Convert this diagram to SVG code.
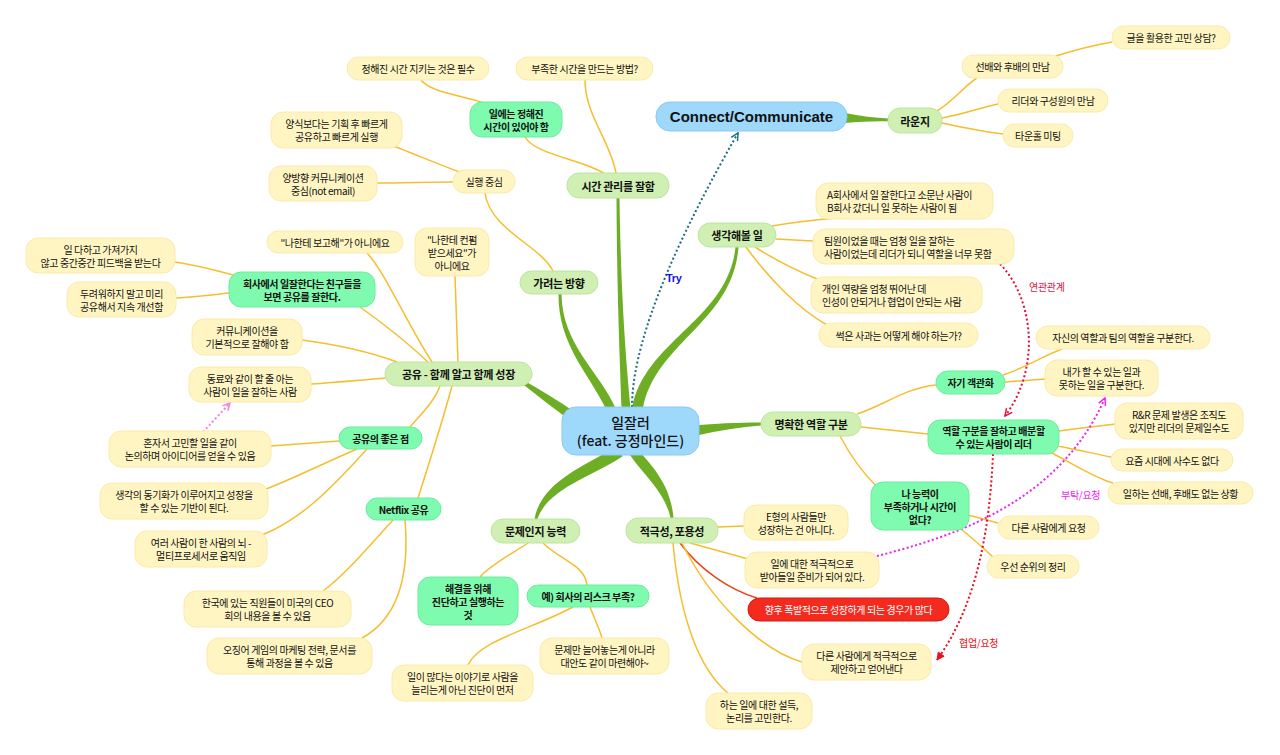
<svg xmlns="http://www.w3.org/2000/svg" width="1280" height="755" viewBox="0 0 1280 755">
<defs>
<style>
text{font-family:"Noto Sans CJK KR","Noto Sans",sans-serif;fill:#111;dominant-baseline:central}
.leaf rect{fill:#FFF5C3;stroke:#FBEAA8;stroke-width:1}
.leaf text{font-size:10px;letter-spacing:-0.4px;text-anchor:middle}
.leaf text.l{text-anchor:start}
.mint rect{fill:#7FFBAF;stroke:#6CEB9D;stroke-width:1}
.mint text{font-size:10px;font-weight:bold;letter-spacing:-0.4px;text-anchor:middle}
.l1 rect{fill:#CFEFB3;stroke:#BEE5A0;stroke-width:1}
.l1 text{font-size:11px;font-weight:bold;letter-spacing:-0.3px;text-anchor:middle}
.blue rect{fill:#9ED8FB;stroke:#88CAF2;stroke-width:1}
.red rect{fill:#F52A1E;stroke:#D41A10;stroke-width:1}
.red text{font-size:10px;letter-spacing:-0.4px;text-anchor:middle;fill:#fff}
.yc path{fill:none;stroke:#F6BE2C;stroke-width:1.5}
.br path{fill:#6DAE24}
.rel path{fill:none;stroke-width:2;stroke-dasharray:2 2.4}
.lbl{font-size:10px;letter-spacing:-0.3px}
</style>
<marker id="mTeal" viewBox="0 0 10 10" refX="9" refY="5" markerWidth="9" markerHeight="9" orient="auto" markerUnits="userSpaceOnUse"><path d="M1,1 L9,5 L1,9" fill="none" stroke="#1B6C86" stroke-width="1.6"/></marker>
<marker id="mCrim" viewBox="0 0 10 10" refX="9" refY="5" markerWidth="9" markerHeight="9" orient="auto" markerUnits="userSpaceOnUse"><path d="M1,1 L9,5 L1,9" fill="none" stroke="#E0103C" stroke-width="1.6"/></marker>
<marker id="mRed" viewBox="0 0 10 10" refX="9" refY="5" markerWidth="9" markerHeight="9" orient="auto" markerUnits="userSpaceOnUse"><path d="M1,1 L9,5 L1,9 Z" fill="#E81020" stroke="#E81020" stroke-width="1"/></marker>
<marker id="mMag" viewBox="0 0 10 10" refX="9" refY="5" markerWidth="9" markerHeight="9" orient="auto" markerUnits="userSpaceOnUse"><path d="M1,1 L9,5 L1,9" fill="none" stroke="#EE22EE" stroke-width="1.6"/></marker>
<marker id="mPink" viewBox="0 0 10 10" refX="9" refY="5" markerWidth="9" markerHeight="9" orient="auto" markerUnits="userSpaceOnUse"><path d="M1,1 L9,5 L1,9" fill="none" stroke="#F27FDC" stroke-width="1.6"/></marker>
</defs>
<rect width="1280" height="755" fill="#fff"/>

<g id="connectors">
<g class="br">
<path d="M616.5,198 C617,300 620,360 621.5,408 L630.5,408 C626,360 621,300 619.5,198 Z"/>
<path d="M558.5,294 C558,345 590,375 606,409 L616,409 C600,372 562,345 561.5,294 Z"/>
<path d="M632,408 C645,340 728,320 735.5,247 L738.5,247 C733,322 656,342 643,408 Z"/>
<path d="M519.2,381.2 Q545,402 572.2,422.1 L577.8,413.9 Q548,394 520.8,378.8 Z"/>
<path d="M699,425 Q730,422 761,422.5 L761,425.5 Q730,428 699,435 Z"/>
<path d="M845,113 C860,116 875,118 889,118.5 L889,121.5 C875,121 860,122 845,123 Z"/>
<path d="M612,449 C585,466 541,482 534.5,519 L537.5,519 C548,488 594,476 623,456 Z"/>
<path d="M630,455 C646,478 665,492 670.5,518 L673.5,518 C671,488 656,470 640,452 Z"/>
</g>
<g class="yc">
<path d="M616,173 C610,140 585,115 585,80"/>
<path d="M605,174 C585,160 535,155 525,137"/>
<path d="M484,103 C460,95 430,92 421,80"/>
<path d="M553,271 C540,245 490,230 485,193"/>
<path d="M460,172 C440,165 410,152 393,146"/>
<path d="M453,182 C430,182 400,183 377,183"/>
<path d="M360,307 C385,325 410,345 428,362"/>
<path d="M233,275 C215,270 195,265 175,262"/>
<path d="M229,293 C210,295 195,297 176,298"/>
<path d="M367,253 C385,272 405,320 432,362"/>
<path d="M455,276 C456,310 457,340 458,362"/>
<path d="M302,340 C340,345 370,352 397,362"/>
<path d="M311,384 C340,382 360,380 386,378"/>
<path d="M440,386 C435,400 425,410 410,427"/>
<path d="M452,386 C440,430 430,460 418,498"/>
<path d="M339,441 C310,443 290,445 271,446"/>
<path d="M357,449 C320,465 290,480 266,489"/>
<path d="M367,449 C330,490 300,520 262,535"/>
<path d="M393,520 C370,545 345,575 323,591"/>
<path d="M405,520 C410,580 395,620 362,638"/>
<path d="M528,543 C510,555 490,565 480,577"/>
<path d="M543,543 C560,560 585,565 587,585"/>
<path d="M573,607 C530,630 480,640 468,665"/>
<path d="M590,607 C595,620 600,630 602,638"/>
<path d="M718,527 L744,526"/>
<path d="M690,543 C715,550 735,555 748,559"/>
<path d="M680,543 C700,570 730,590 757,598" style="stroke:#E4471A"/>
<path d="M682,543 C710,600 760,650 802,662"/>
<path d="M673,543 C680,620 700,670 728,693"/>
<path d="M772,226 C795,222 815,220 837,218"/>
<path d="M776,239 L813,241"/>
<path d="M755,247 C775,260 800,272 817,279"/>
<path d="M746,247 C770,280 800,310 827,325"/>
<path d="M937,111 C955,100 965,85 977,78"/>
<path d="M942,118 C960,115 980,108 998,104"/>
<path d="M942,123 C965,128 985,132 1003,134"/>
<path d="M1056,56 C1075,50 1095,45 1112,42"/>
<path d="M857,414 C885,405 905,388 936,385"/>
<path d="M861,427 C890,430 910,432 928,434"/>
<path d="M840,436 C850,455 865,475 877,487"/>
<path d="M1003,375 C1025,368 1045,355 1062,349"/>
<path d="M1005,382 L1045,379"/>
<path d="M1059,431 C1080,428 1100,426 1115,424"/>
<path d="M1057,446 C1080,450 1095,454 1111,457"/>
<path d="M1052,453 C1075,465 1095,478 1113,483"/>
<path d="M968,515 C980,518 990,521 998,523"/>
<path d="M962,530 C975,540 985,550 993,557"/>
</g>
<g class="rel">
<path d="M632,407 C632,350 665,260 738,133" stroke="#1B6C86" marker-end="url(#mTeal)"/>
<path d="M1000,264 C1035,300 1040,370 1005,416" stroke="#E0103C" marker-end="url(#mCrim)"/>
<path d="M993,454 C990,520 980,600 937,660" stroke="#E81020" marker-end="url(#mRed)"/>
<path d="M877,556 C960,535 1060,500 1105,398" stroke="#EE22EE" marker-end="url(#mMag)"/>
<path d="M203,432 L230,403" stroke="#F27FDC" marker-end="url(#mPink)"/>
</g>
<text class="lbl" x="666" y="278" style="fill:#1414E6;font-weight:bold;font-family:'Liberation Sans',sans-serif;font-size:11px">Try</text>
<text class="lbl" x="1029" y="286" style="fill:#E0103C">연관관계</text>
<text class="lbl" x="959" y="642" style="fill:#E81020">협업/요청</text>
<text class="lbl" x="1061" y="494" style="fill:#EE22EE">부탁/요청</text>
</g>

<g id="n-center" class="blue"><rect x="562" y="407" width="137" height="48" rx="14"/>
<text x="630.5" y="422" style="font-size:14px;font-weight:500;text-anchor:middle">일잘러</text>
<text x="630.5" y="440" style="font-size:14px;font-weight:500;text-anchor:middle">(feat. 긍정마인드)</text></g>
<g id="n-connect" class="blue"><rect x="656" y="102" width="191" height="29" rx="14"/>
<text x="751.5" y="116.5" style="font-family:'Liberation Sans',sans-serif;font-size:15px;font-weight:bold;text-anchor:middle">Connect/Communicate</text></g>

<g id="n-time" class="l1"><rect x="567" y="173" width="102" height="25" rx="12"/><text x="618" y="185.5">시간 관리를 잘함</text></g>
<g id="n-dir" class="l1"><rect x="520" y="271" width="78" height="23" rx="11.5"/><text x="559" y="282.5">가려는 방향</text></g>
<g id="n-share" class="l1"><rect x="385" y="362" width="147" height="24" rx="12"/><text x="458.5" y="374">공유 - 함께 알고 함께 성장</text></g>
<g id="n-role" class="l1"><rect x="761" y="412" width="100" height="24" rx="12"/><text x="811" y="424">명확한 역할 구분</text></g>
<g id="n-think" class="l1"><rect x="698" y="223" width="78" height="24" rx="12"/><text x="737" y="235">생각해볼 일</text></g>
<g id="n-lounge" class="l1"><rect x="888" y="108" width="54" height="25" rx="12"/><text x="915" y="120.5">라운지</text></g>
<g id="n-problem" class="l1"><rect x="491" y="519" width="89" height="24" rx="12"/><text x="535.5" y="531">문제인지 능력</text></g>
<g id="n-active" class="l1"><rect x="626" y="518" width="92" height="25" rx="12"/><text x="672" y="530.5">적극성, 포용성</text></g>

<g id="m-worktime" class="mint"><rect x="470" y="102" width="92" height="35" rx="12"/><text x="516" y="113">일에는 정해진</text><text x="516" y="126">시간이 있어야 함</text></g>
<g id="m-company" class="mint"><rect x="229" y="272" width="146" height="35" rx="12"/><text x="302" y="283">회사에서 일잘한다는 친구들을</text><text x="302" y="296">보면 공유를 잘한다.</text></g>
<g id="m-good" class="mint"><rect x="339" y="427" width="83" height="22" rx="11"/><text x="380.5" y="438">공유의 좋은 점</text></g>
<g id="m-netflix" class="mint"><rect x="366" y="498" width="75" height="22" rx="11"/><text x="403.5" y="509">Netflix 공유</text></g>
<g id="m-solve" class="mint"><rect x="418" y="577" width="100" height="48" rx="12"/><text x="468" y="588">해결을 위해</text><text x="468" y="601">진단하고 실행하는</text><text x="468" y="614">것</text></g>
<g id="m-risk" class="mint"><rect x="527" y="585" width="122" height="22" rx="11"/><text x="588" y="596">예) 회사의 리스크 부족?</text></g>
<g id="m-self" class="mint"><rect x="936" y="371" width="69" height="23" rx="11.5"/><text x="970.5" y="382.5">자기 객관화</text></g>
<g id="m-leader" class="mint"><rect x="928" y="420" width="131" height="34" rx="12"/><text x="993.5" y="430.5">역할 구분을 잘하고 배분할</text><text x="993.5" y="443.5">수 있는 사람이 리더</text></g>
<g id="m-lack" class="mint"><rect x="871" y="482" width="98" height="48" rx="12"/><text x="920" y="493">나 능력이</text><text x="920" y="506">부족하거나 시간이</text><text x="920" y="519">없다?</text></g>

<g id="l-01" class="leaf"><rect x="347" y="57" width="142" height="23" rx="11.5"/><text x="418" y="68.5">정해진 시간 지키는 것은 필수</text></g>
<g id="l-02" class="leaf"><rect x="516" y="57" width="137" height="23" rx="11.5"/><text x="584.5" y="68.5">부족한 시간을 만드는 방법?</text></g>
<g id="l-03" class="leaf"><rect x="271" y="112" width="131" height="36" rx="12"/><text x="336.5" y="123.5">양식보다는 기획 후 빠르게</text><text x="336.5" y="136.5">공유하고 빠르게 실행</text></g>
<g id="l-04" class="leaf"><rect x="269" y="166" width="108" height="35" rx="12"/><text x="323" y="177">양방향 커뮤니케이션</text><text x="323" y="190">중심(not email)</text></g>
<g id="l-05" class="leaf"><rect x="453" y="170" width="62" height="23" rx="11.5"/><text x="484" y="181.5">실행 중심</text></g>
<g id="l-06" class="leaf"><rect x="267" y="231" width="136" height="22" rx="11"/><text x="335" y="242">"나한테 보고해"가 아니에요</text></g>
<g id="l-07" class="leaf"><rect x="415" y="228" width="74" height="48" rx="12"/><text x="452" y="239">"나한테 컨펌</text><text x="452" y="252">받으세요"가</text><text x="452" y="265">아니에요</text></g>
<g id="l-08" class="leaf"><rect x="26" y="238" width="149" height="35" rx="12"/><text x="100.5" y="249">일 다하고 가져가지</text><text x="100.5" y="262">않고 중간중간 피드백을 받는다</text></g>
<g id="l-09" class="leaf"><rect x="67" y="282" width="109" height="35" rx="12"/><text x="121.5" y="293">두려워하지 말고 미리</text><text x="121.5" y="306">공유해서 지속 개선함</text></g>
<g id="l-10" class="leaf"><rect x="192" y="319" width="110" height="36" rx="12"/><text x="247" y="330.5">커뮤니케이션을</text><text x="247" y="343.5">기본적으로 잘해야 함</text></g>
<g id="l-11" class="leaf"><rect x="189" y="367" width="122" height="35" rx="12"/><text x="250" y="378">동료와 같이 할 줄 아는</text><text x="250" y="391">사람이 일을 잘하는 사람</text></g>
<g id="l-12" class="leaf"><rect x="109" y="431" width="162" height="36" rx="12"/><text x="190" y="442.5">혼자서 고민할 일을 같이</text><text x="190" y="455.5">논의하며 아이디어를 얻을 수 있음</text></g>
<g id="l-13" class="leaf"><rect x="100" y="483" width="168" height="36" rx="12"/><text x="184" y="494.5">생각의 동기화가 이루어지고 성장을</text><text x="184" y="507.5">할 수 있는 기반이 된다.</text></g>
<g id="l-14" class="leaf"><rect x="135" y="531" width="132" height="36" rx="12"/><text x="201" y="542.5">여러 사람이 한 사람의 뇌 -</text><text x="201" y="555.5">멀티프로세서로 움직임</text></g>
<g id="l-15" class="leaf"><rect x="184" y="591" width="167" height="36" rx="12"/><text x="267.5" y="602.5">한국에 있는 직원들이 미국의 CEO</text><text x="267.5" y="615.5">회의 내용을 볼 수 있음</text></g>
<g id="l-16" class="leaf"><rect x="207" y="638" width="165" height="36" rx="12"/><text x="289.5" y="649.5">오징어 게임의 마케팅 전략, 문서를</text><text x="289.5" y="662.5">통해 과정을 볼 수 있음</text></g>
<g id="l-17" class="leaf"><rect x="392" y="665" width="141" height="36" rx="12"/><text x="462.5" y="676.5">일이 많다는 이야기로 사람을</text><text x="462.5" y="689.5">늘리는게 아닌 진단이 먼저</text></g>
<g id="l-18" class="leaf"><rect x="540" y="638" width="129" height="36" rx="12"/><text x="604.5" y="649.5">문제만 늘어놓는게 아니라</text><text x="604.5" y="662.5">대안도 같이 마련해야~</text></g>
<g id="l-19" class="leaf"><rect x="744" y="505" width="104" height="35" rx="12"/><text x="796" y="516">E형의 사람들만</text><text x="796" y="529">성장하는 건 아니다.</text></g>
<g id="l-20" class="leaf"><rect x="745" y="552" width="134" height="36" rx="12"/><text x="812" y="563.5">일에 대한 적극적으로</text><text x="812" y="576.5">받아들일 준비가 되어 있다.</text></g>
<g id="r-01" class="red"><rect x="748" y="598" width="201" height="23" rx="11.5"/><text x="848.5" y="609.5">향후 폭발적으로 성장하게 되는 경우가 많다</text></g>
<g id="l-21" class="leaf"><rect x="802" y="644" width="129" height="36" rx="12"/><text x="866.5" y="655.5">다른 사람에게 적극적으로</text><text x="866.5" y="668.5">제안하고 얻어낸다</text></g>
<g id="l-22" class="leaf"><rect x="706" y="693" width="106" height="36" rx="12"/><text x="759" y="704.5">하는 일에 대한 설득,</text><text x="759" y="717.5">논리를 고민한다.</text></g>
<g id="l-23" class="leaf"><rect x="816" y="183" width="177" height="36" rx="12"/><text class="l" x="827" y="194.5">A회사에서 일 잘한다고 소문난 사람이</text><text class="l" x="827" y="207.5">B회사 갔더니 일 못하는 사람이 됨</text></g>
<g id="l-24" class="leaf"><rect x="813" y="229" width="201" height="35" rx="12"/><text class="l" x="824" y="240">팀원이었을 때는 엄청 일을 잘하는</text><text class="l" x="824" y="253">사람이었는데 리더가 되니 역할을 너무 못함</text></g>
<g id="l-25" class="leaf"><rect x="811" y="277" width="171" height="36" rx="12"/><text class="l" x="822" y="288.5">개인 역량을 엄청 뛰어난 데</text><text class="l" x="822" y="301.5">인성이 안되거나 협업이 안되는 사람</text></g>
<g id="l-26" class="leaf"><rect x="819" y="323" width="159" height="24" rx="12"/><text x="898.5" y="335">썩은 사과는 어떻게 해야 하는가?</text></g>
<g id="l-27" class="leaf"><rect x="962" y="55" width="101" height="23" rx="11.5"/><text x="1012.5" y="66.5">선배와 후배의 만남</text></g>
<g id="l-28" class="leaf"><rect x="1112" y="26" width="118" height="23" rx="11.5"/><text x="1171" y="37.5">글을 활용한 고민 상담?</text></g>
<g id="l-29" class="leaf"><rect x="998" y="89" width="110" height="23" rx="11.5"/><text x="1053" y="100.5">리더와 구성원의 만남</text></g>
<g id="l-30" class="leaf"><rect x="1003" y="124" width="70" height="23" rx="11.5"/><text x="1038" y="135.5">타운홀 미팅</text></g>
<g id="l-31" class="leaf"><rect x="1036" y="326" width="174" height="23" rx="11.5"/><text x="1123" y="337.5">자신의 역할과 팀의 역할을 구분한다.</text></g>
<g id="l-32" class="leaf"><rect x="1045" y="360" width="113" height="36" rx="12"/><text x="1101.5" y="371.5">내가 할 수 있는 일과</text><text x="1101.5" y="384.5">못하는 일을 구분한다.</text></g>
<g id="l-33" class="leaf"><rect x="1115" y="403" width="128" height="36" rx="12"/><text x="1179" y="414.5">R&amp;R 문제 발생은 조직도</text><text x="1179" y="427.5">있지만 리더의 문제일수도</text></g>
<g id="l-34" class="leaf"><rect x="1111" y="449" width="122" height="22" rx="11"/><text x="1172" y="460">요즘 시대에 사수도 없다</text></g>
<g id="l-35" class="leaf"><rect x="1108" y="482" width="145" height="22" rx="11"/><text x="1180.5" y="493">일하는 선배, 후배도 없는 상황</text></g>
<g id="l-36" class="leaf"><rect x="998" y="516" width="101" height="23" rx="11.5"/><text x="1048.5" y="527.5">다른 사람에게 요청</text></g>
<g id="l-37" class="leaf"><rect x="987" y="555" width="92" height="23" rx="11.5"/><text x="1033" y="566.5">우선 순위의 정리</text></g>
</svg>
